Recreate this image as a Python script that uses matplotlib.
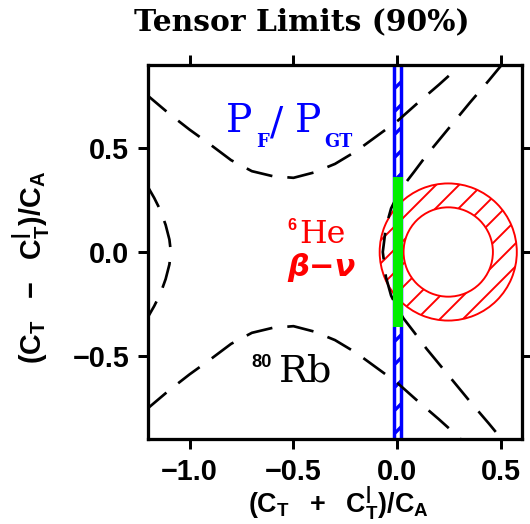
import matplotlib
matplotlib.use('Agg')
import matplotlib.pyplot as plt
from matplotlib.patches import Rectangle, Wedge

# 80Rb limit contour (dashed), upper and lower branch
rb_x = [-1.21, -1.1, -1.0, -0.9, -0.8, -0.7, -0.6, -0.5, -0.4, -0.3,
        -0.2, -0.1, 0.0, 0.1, 0.2, 0.3, 0.31]
rb_upper = [0.76, 0.667, 0.589, 0.517, 0.442, 0.389, 0.365, 0.357, 0.383, 0.424,
            0.484, 0.557, 0.630, 0.719, 0.805, 0.895, 0.91]
rb_lower = [-0.76, -0.667, -0.589, -0.517, -0.442, -0.389, -0.365, -0.357, -0.383, -0.424,
            -0.484, -0.557, -0.630, -0.719, -0.805, -0.895, -0.91]

# 6He beta-nu contour, right branch
he_x = [0.51, 0.44, 0.35, 0.28, 0.21, 0.14, 0.08, 0.03, 0.0, -0.03, -0.055, -0.07,
        -0.055, -0.03, 0.0, 0.03, 0.08, 0.14, 0.21, 0.28, 0.35, 0.44, 0.51]
he_y = [0.91, 0.825, 0.72, 0.635, 0.55, 0.465, 0.385, 0.32, 0.27, 0.21, 0.12, 0.0,
        -0.12, -0.21, -0.27, -0.32, -0.385, -0.465, -0.55, -0.635, -0.72, -0.825, -0.91]

# left branch
left_x = [-1.21, -1.17, -1.14, -1.115, -1.097, -1.09, -1.097, -1.115, -1.14, -1.17, -1.21]
left_y = [0.33, 0.26, 0.2, 0.13, 0.06, 0.0, -0.06, -0.13, -0.2, -0.26, -0.33]

# 6He allowed ring
ring_center = (0.245, 0.0)
ring_outer = 0.33
ring_inner = 0.215

# PF/PGT band and green band
band_x = [-0.016, 0.019]
green_x = [-0.022, 0.028]
green_y = [-0.362, 0.362]

x_ticks = [-1.0, -0.5, 0.0, 0.5]
y_ticks = [-0.5, 0.0, 0.5]

DPI = 69
plt.rcParams['font.family'] = 'Liberation Sans'
plt.rcParams['font.weight'] = 'bold'
plt.rcParams['mathtext.fontset'] = 'custom'
plt.rcParams['mathtext.rm'] = 'Liberation Sans:bold'
plt.rcParams['mathtext.it'] = 'Liberation Sans:bold'
plt.rcParams['mathtext.bf'] = 'Liberation Sans:bold'
plt.rcParams['hatch.linewidth'] = 2.0

fig = plt.figure(figsize=(530 / DPI, 524 / DPI), dpi=DPI)
ax = fig.add_axes([148 / 530, 1 - 439 / 524, 374 / 530, 374 / 524])

# blue PF/PGT band
band = Rectangle((band_x[0], -1.0), band_x[1] - band_x[0], 2.0,
                 facecolor='white', edgecolor='#0000ff', hatch='/', lw=3.6, zorder=1)
if hasattr(band, 'set_hatch_linewidth'):
    band.set_hatch_linewidth(3.5)
ax.add_patch(band)

# red hatched ring
ax.add_patch(Wedge(ring_center, ring_outer, 0, 360, width=ring_outer - ring_inner,
                   facecolor='none', edgecolor='#ff0000', hatch='/', lw=2.0, zorder=2))

dash = dict(color='black', lw=2.8, dashes=(10, 5.6), zorder=3)
ax.plot(rb_x, rb_upper, **dash)
ax.plot(rb_x, rb_lower, **dash)
ax.plot(he_x, he_y, **dash)
ax.plot(left_x, left_y, **dash)

ax.add_patch(Rectangle((green_x[0], green_y[0]), green_x[1] - green_x[0],
                       green_y[1] - green_y[0], facecolor='#00ee00', edgecolor='none', zorder=4))

# labels inside the plot
serif = 'DejaVu Serif'
ax.text(-0.825, 0.577, 'P', family=serif, fontweight='normal', fontsize=41, color='#0000ff')
ax.text(-0.678, 0.506, 'F', family=serif, fontweight='bold', fontsize=18.5, color='#0000ff')
ax.text(-0.612, 0.565, '/', family=serif, fontweight='normal', fontsize=41, color='#0000ff')
ax.text(-0.495, 0.577, 'P', family=serif, fontweight='normal', fontsize=41, color='#0000ff')
ax.text(-0.350, 0.506, 'GT', family=serif, fontweight='bold', fontsize=18.5, color='#0000ff')

ax.text(-0.529, 0.104, '6', fontsize=17, color='#ff0000')
ax.text(-0.471, 0.042, 'He', family=serif, fontweight='normal', fontsize=33, color='#ff0000')
ax.text(-0.529, -0.114, 'β−ν', family='DejaVu Sans', style='italic', fontweight='bold',
        fontsize=32, color='#ff0000')

ax.text(-0.704, -0.553, '80', fontsize=19, color='black')
ax.text(-0.568, -0.623, 'Rb', family=serif, fontweight='normal', fontsize=40, color='black')

ax.set_xlim(-1.2, 0.6)
ax.set_ylim(-0.9, 0.9)
ax.set_xticks(x_ticks)
ax.set_yticks(y_ticks)
ax.tick_params(direction='out', length=10.5, width=3.1, pad=9, labelsize=30,
               top=True, right=True)
for s in ax.spines.values():
    s.set_linewidth(3.4)
    s.set_zorder(10)

fig.text(0.569, 0.943, 'Tensor Limits (90%)', family=serif, fontweight='bold',
         fontsize=31, ha='center', va='baseline')
fig.text(0.638, 0.04, r'$\mathrm{(C_T\ \ +\ \ C^{|}_T)/C_A}$', fontsize=28,
         ha='center', va='center')
fig.text(0.06, 0.49, r'$\mathrm{(C_T\ \ -\ \ C^{|}_T)/C_A}$', fontsize=30,
         ha='center', va='center', rotation=90)

fig.savefig('out.png', dpi=DPI)
